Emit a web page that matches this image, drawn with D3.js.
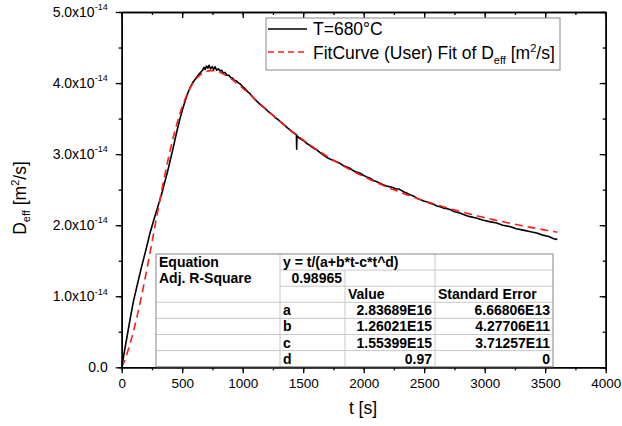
<!DOCTYPE html>
<html>
<head>
<meta charset="utf-8">
<script src="https://cdn.jsdelivr.net/npm/d3@7"></script>
<style>
  html, body { margin: 0; padding: 0; background: #fff; }
  svg text { font-family: "Liberation Sans", Arial, sans-serif; fill: #000; }
</style>
</head>
<body>
<svg id="chart" width="622" height="426"></svg>
<script>
// Measured effective diffusivity at 680 °C: time [s] and D_eff [1e-14 m²/s]
const timeS = [0, 20, 44, 70, 96, 130, 165, 200, 234, 270, 311, 335, 358, 380, 399, 420, 440, 460, 482, 503,
  523, 544, 564, 585, 606, 627, 647, 668, 680, 690, 700, 712, 722, 735, 748, 760, 771, 785, 798, 812,
  826, 840, 854, 870, 885, 900, 915, 930, 950, 965, 978, 1000, 1020, 1040, 1060, 1080, 1100, 1120, 1143, 1165,
  1185, 1205, 1226, 1250, 1270, 1290, 1309, 1330, 1350, 1370, 1391, 1410, 1430, 1444, 1446, 1448, 1465, 1490, 1510, 1529,
  1550, 1570, 1590, 1612, 1640, 1665, 1690, 1721, 1750, 1780, 1804, 1830, 1860, 1887, 1910, 1940, 1970, 2000, 2025, 2052,
  2080, 2110, 2135, 2160, 2190, 2217, 2240, 2265, 2290, 2310, 2330, 2358, 2383, 2410, 2440, 2465, 2495, 2520, 2548, 2580,
  2605, 2631, 2660, 2690, 2713, 2750, 2795, 2840, 2878, 2930, 2988, 3040, 3099, 3150, 3209, 3260, 3319, 3370, 3430, 3480,
  3530, 3570, 3600];
const deffMeasured = [0, 0.20, 0.43, 0.68, 0.92, 1.17, 1.42, 1.65, 1.89, 2.10, 2.33, 2.47, 2.62, 2.76, 2.90, 3.05, 3.20, 3.35, 3.50, 3.63,
  3.74, 3.85, 3.93, 4.00, 4.05, 4.10, 4.14, 4.18, 4.22, 4.19, 4.24, 4.21, 4.25, 4.20, 4.23, 4.19, 4.23, 4.18, 4.20, 4.17,
  4.18, 4.14, 4.15, 4.11, 4.11, 4.08, 4.07, 4.04, 4.03, 4.00, 3.99, 3.95, 3.92, 3.88, 3.85, 3.81, 3.77, 3.74, 3.70, 3.67,
  3.64, 3.61, 3.58, 3.55, 3.51, 3.49, 3.46, 3.43, 3.40, 3.37, 3.34, 3.31, 3.29, 3.27, 3.07, 3.26, 3.23, 3.20, 3.18, 3.15,
  3.13, 3.10, 3.08, 3.06, 3.02, 2.99, 2.96, 2.93, 2.91, 2.89, 2.87, 2.84, 2.82, 2.80, 2.77, 2.75, 2.73, 2.70, 2.68, 2.66,
  2.63, 2.61, 2.59, 2.57, 2.55, 2.54, 2.53, 2.51, 2.51, 2.49, 2.47, 2.45, 2.43, 2.41, 2.38, 2.36, 2.34, 2.33, 2.31, 2.29,
  2.27, 2.26, 2.24, 2.23, 2.22, 2.19, 2.17, 2.14, 2.12, 2.10, 2.07, 2.05, 2.03, 2.00, 1.98, 1.95, 1.93, 1.91, 1.89, 1.86,
  1.84, 1.81, 1.80];
const deffUnit = 1e-14;

// Fit y = t/(a+b*t-c*t^d): parameter names, values and standard errors
const fitParamNames = ["a", "b", "c", "d"];
const fitParamValues = [2.83689E16, 1.26021E15, 1.55399E15, 0.97];
const fitParamLabels = ["2.83689E16", "1.26021E15", "1.55399E15", "0.97"];
const fitParamErrors = ["6.66806E13", "4.27706E11", "3.71257E11", "0"];
const fitEquation = "y = t/(a+b*t-c*t^d)";
const fitAdjR2 = "0.98965";

// Axis ticks
const xTicks = [0, 500, 1000, 1500, 2000, 2500, 3000, 3500, 4000];
const yTicks = [0, 1, 2, 3, 4, 5];
const yTickLabels = ["0.0", "1.0x10", "2.0x10", "3.0x10", "4.0x10", "5.0x10"];
const yTickExp = ["", "-14", "-14", "-14", "-14", "-14"];

const svg = d3.select("#chart");
const x = d3.scaleLinear().domain([0, 4000]).range([121.7, 605.7]);
const y = d3.scaleLinear().domain([0, 5]).range([367.3, 12]);

// Fit curve evaluated from the tabulated parameters
const [pa, pb, pc, pd] = fitParamValues;
const fitT = d3.range(0, 3601, 10);
const fitY = fitT.map(t => t / (pa + pb * t - pc * Math.pow(t, pd)) / deffUnit);

const line = d3.line().x(d => x(d[0])).y(d => y(d[1]));

// Measured curve
svg.append("path")
  .datum(timeS.map((t, i) => [t, deffMeasured[i]]))
  .attr("d", line)
  .attr("fill", "none").attr("stroke", "#000").attr("stroke-width", 1.6)
  .attr("stroke-linejoin", "round");

// Fit curve
svg.append("path")
  .datum(fitT.map((t, i) => [t, fitY[i]]))
  .attr("d", line)
  .attr("fill", "none").attr("stroke", "#ff1a1a").attr("stroke-width", 1.6)
  .attr("stroke-dasharray", "8,5");

// Axes: labelled bottom/left, mirrored ticks on top/right
const xMinor = d3.range(0, 4001, 250);
const yMinor = d3.range(0, 5.01, 0.5);
function styleAxis(g) {
  g.selectAll("path.domain").attr("stroke", "#000").attr("stroke-width", 1.5);
  g.selectAll(".tick line").attr("stroke", "#000").attr("stroke-width", 1.3);
}
svg.append("g").attr("transform", `translate(0,${y(0)})`)
  .call(d3.axisBottom(x).tickValues(xMinor).tickSize(3).tickFormat("").tickSizeOuter(0)).call(styleAxis);
svg.append("g").attr("transform", `translate(0,${y(0)})`)
  .call(d3.axisBottom(x).tickValues(xTicks).tickSize(6).tickSizeOuter(0).tickPadding(5).tickFormat(d3.format("d")))
  .call(styleAxis)
  .call(g => g.selectAll("text").attr("font-size", 13.5).attr("font-family", "Liberation Sans, Arial").attr("fill", "#000"));
svg.append("g").attr("transform", `translate(0,${y(5)})`)
  .call(d3.axisBottom(x).tickValues(xMinor).tickSize(3).tickFormat("").tickSizeOuter(0)).call(styleAxis);
svg.append("g").attr("transform", `translate(0,${y(5)})`)
  .call(d3.axisBottom(x).tickValues(xTicks).tickSize(6).tickFormat("").tickSizeOuter(0)).call(styleAxis);

svg.append("g").attr("transform", `translate(${x(0)},0)`)
  .call(d3.axisLeft(y).tickValues(yMinor).tickSize(3).tickFormat("").tickSizeOuter(0)).call(styleAxis);
svg.append("g").attr("transform", `translate(${x(0)},0)`)
  .call(d3.axisLeft(y).tickValues(yTicks).tickSize(6).tickSizeOuter(0).tickFormat(""))
  .call(styleAxis);
svg.append("g").attr("transform", `translate(${x(4000)},0)`)
  .call(d3.axisLeft(y).tickValues(yMinor).tickSize(3).tickFormat("").tickSizeOuter(0)).call(styleAxis);
svg.append("g").attr("transform", `translate(${x(4000)},0)`)
  .call(d3.axisLeft(y).tickValues(yTicks).tickSize(6).tickFormat("").tickSizeOuter(0)).call(styleAxis);

// y tick labels with power-of-ten superscripts
yTicks.forEach((v, i) => {
  const t = svg.append("text")
    .attr("x", x(0) - 14).attr("y", y(v) + 4.8)
    .attr("text-anchor", "end").attr("font-size", 14);
  t.append("tspan").text(yTickLabels[i]);
  if (yTickExp[i]) {
    t.append("tspan").attr("font-size", 9).attr("dy", -6.5).text(yTickExp[i]);
  }
});

// Axis titles
svg.append("text").attr("x", 363).attr("y", 414).attr("text-anchor", "middle")
  .attr("font-size", 17.5).text("t [s]");
const yt = svg.append("text")
  .attr("transform", "translate(26,198) rotate(-90)")
  .attr("text-anchor", "middle").attr("font-size", 17.5);
yt.append("tspan").text("D");
yt.append("tspan").attr("font-size", 11).attr("dy", 4).text("eff");
yt.append("tspan").attr("dy", -4).text(" [m");
yt.append("tspan").attr("font-size", 11).attr("dy", -7).text("2");
yt.append("tspan").attr("dy", 7).text("/s]");

// Legend
const lg = svg.append("g");
lg.append("rect").attr("x", 266).attr("y", 18).attr("width", 294).attr("height", 52)
  .attr("fill", "#fff").attr("stroke", "#888").attr("stroke-width", 1);
lg.append("line").attr("x1", 268).attr("x2", 307).attr("y1", 29).attr("y2", 29)
  .attr("stroke", "#000").attr("stroke-width", 1.5);
lg.append("text").attr("x", 313).attr("y", 35).attr("font-size", 17.5).text("T=680°C");
lg.append("line").attr("x1", 268).attr("x2", 307).attr("y1", 52).attr("y2", 52)
  .attr("stroke", "#ff1a1a").attr("stroke-width", 1.6).attr("stroke-dasharray", "6,4");
const l2 = lg.append("text").attr("x", 313).attr("y", 59).attr("font-size", 17.5);
l2.append("tspan").text("FitCurve (User) Fit of D");
l2.append("tspan").attr("font-size", 11).attr("dy", 5).text("eff");
l2.append("tspan").attr("dy", -5).text(" [m");
l2.append("tspan").attr("font-size", 11).attr("dy", -7).text("2");
l2.append("tspan").attr("dy", 7).text("/s]");

// Fit results table
const tb = svg.append("g");
const tX = [156, 280, 345, 435, 553];
const tTop = 254, rowH = 16.1, nRows = 7;
const tBottom = tTop + rowH * nRows;
const gridC = "#c8c8c8";
tb.append("rect").attr("x", tX[0]).attr("y", tTop).attr("width", tX[4] - tX[0]).attr("height", tBottom - tTop)
  .attr("fill", "#fff");
// horizontal grid
for (let r = 1; r < nRows; r++) {
  const yy = tTop + r * rowH;
  tb.append("line").attr("x1", r < 3 ? tX[1] : tX[0]).attr("x2", tX[4]).attr("y1", yy).attr("y2", yy)
    .attr("stroke", gridC).attr("stroke-width", 1);
}
// vertical grid
tb.append("line").attr("x1", tX[1]).attr("x2", tX[1]).attr("y1", tTop).attr("y2", tBottom).attr("stroke", gridC);
tb.append("line").attr("x1", tX[2]).attr("x2", tX[2]).attr("y1", tTop + rowH).attr("y2", tBottom).attr("stroke", gridC);
tb.append("line").attr("x1", tX[3]).attr("x2", tX[3]).attr("y1", tTop).attr("y2", tBottom).attr("stroke", gridC);
tb.append("rect").attr("x", tX[0]).attr("y", tTop).attr("width", tX[4] - tX[0]).attr("height", tBottom - tTop)
  .attr("fill", "none").attr("stroke", "#999").attr("stroke-width", 1.2);

function cell(text, col, row, align) {
  const pad = 3;
  const xx = align === "end" ? tX[col + 1] - pad : tX[col] + pad;
  tb.append("text").attr("x", xx).attr("y", tTop + row * rowH + 13)
    .attr("text-anchor", align || "start").attr("font-size", 14).attr("font-weight", "bold").text(text);
}
cell("Equation", 0, 0);
cell(fitEquation, 1, 0);
cell("Adj. R-Square", 0, 1);
cell(fitAdjR2, 1, 1, "end");
cell("Value", 2, 2);
cell("Standard Error", 3, 2);
fitParamNames.forEach((n, i) => {
  cell(n, 1, 3 + i);
  cell(fitParamLabels[i], 2, 3 + i, "end");
  cell(fitParamErrors[i], 3, 3 + i, "end");
});
</script>
</body>
</html>
